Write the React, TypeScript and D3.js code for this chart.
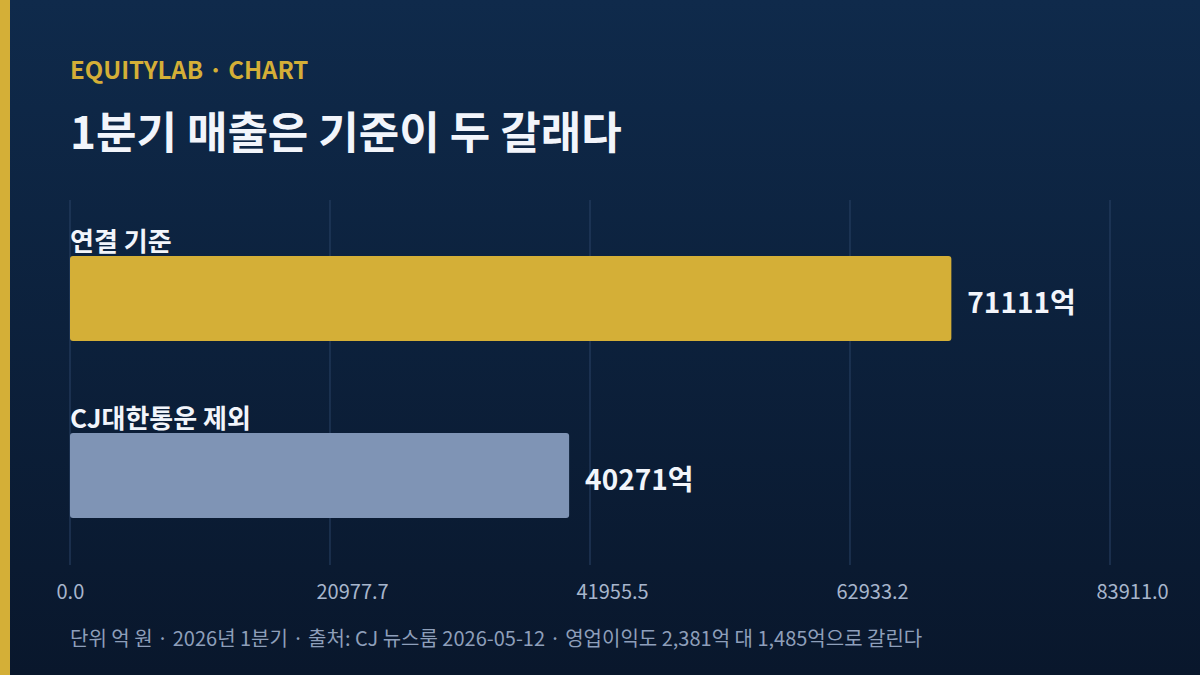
import React from "react";
import * as d3 from "d3";

const categories = ["연결 기준", "CJ대한통운 제외"];
const values = [71111, 40271];
const barColors = ["#d4af37", "#7f94b5"];
const domainMax = 83911.0;
const tickValues = [0, 20977.7, 41955.5, 62933.2, 83911.0];
const tickLabels = ["0.0", "20977.7", "41955.5", "62933.2", "83911.0"];
const kicker = "EQUITYLAB · CHART";
const title = "1분기 매출은 기준이 두 갈래다";
const footer = "단위 억 원 · 2026년 1분기 · 출처: CJ 뉴스룸 2026-05-12 · 영업이익도 2,381억 대 1,485억으로 갈린다";

const W = 1200;
const H = 675;
const FONT = "'Noto Sans CJK KR', 'Noto Sans', sans-serif";

export default function App() {
  const x = d3.scaleLinear().domain([0, domainMax]).range([70, 1110]);
  const y = d3.scaleBand<string>().domain(categories).range([256, 518]).paddingInner(0.956).paddingOuter(0);
  // bandwidth check: 2 bands
  const barH = 85;
  const yTop = (c: string) => (y(c) as number);
  return (
    <svg width={W} height={H} style={{ position: "fixed", left: 0, top: 0, display: "block" }}>
      <defs>
        <linearGradient id="bg" x1="0" y1="0" x2="0" y2="1">
          <stop offset="0%" stopColor="#0f2a4b" />
          <stop offset="100%" stopColor="#09172c" />
        </linearGradient>
      </defs>
      <rect x={0} y={0} width={W} height={H} fill="url(#bg)" />
      <rect x={0} y={0} width={10} height={H} fill="#d4af37" />
      <text x={70} y={79} fill="#d4af37" fontFamily={FONT} fontWeight={700} fontSize={24}>
        {kicker}
      </text>
      <text x={70} y={149} fill="#f2f5fb" fontFamily={FONT} fontWeight={700} fontSize={44}>
        {title}
      </text>
      {tickValues.map((t, i) => (
        <g key={i}>
          <line x1={x(t)} x2={x(t)} y1={200} y2={565} stroke="#2a4366" strokeWidth={1} />
          <text x={x(t) - 13.5} y={599} textAnchor="start" fill="#a7b5cc" fontFamily={FONT} fontSize={20}>
            {tickLabels[i]}
          </text>
        </g>
      ))}
      {categories.map((c, i) => {
        const top = i === 0 ? 256 : 433;
        return (
          <g key={c}>
            <text x={70} y={top - 5} fill="#f2f5fb" fontFamily={FONT} fontWeight={700} fontSize={26}>
              {c}
            </text>
            <rect x={x(0)} y={top} width={x(values[i]) - x(0)} height={barH} rx={3} fill={barColors[i]} />
            <text x={x(values[i]) + 16} y={top + barH / 2 + 14} fill="#f2f5fb" fontFamily={FONT} fontWeight={700} fontSize={28}>
              {values[i]}억
            </text>
          </g>
        );
      })}
      <text x={70} y={646} fill="#8e9fba" fontFamily={FONT} fontSize={20}>
        {footer}
      </text>
    </svg>
  );
}
